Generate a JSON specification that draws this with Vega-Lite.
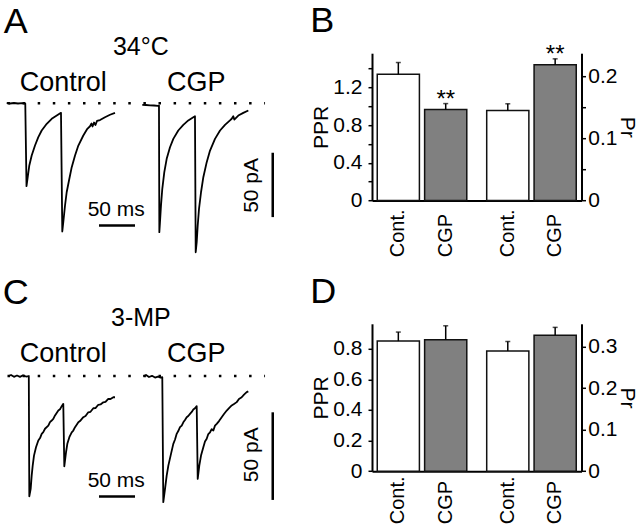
{
 "$schema": "https://vega.github.io/schema/vega-lite/v6.json",
 "padding": {"left": 0, "top": 3.2, "right": 0, "bottom": 0},
 "background": "white",
 "config": {
  "font": "Liberation Sans",
  "view": {"stroke": null},
  "axis": {"grid": false, "domainColor": "black", "tickColor": "black", "labelColor": "black", "titleColor": "black", "titleFontWeight": "normal"},
  "title": {"fontWeight": "normal", "color": "black"},
  "text": {"color": "black"}
 },
 "datasets": {
  "traces": [
   {"p":"A","c":"Ctl","t":9.3,"i":0.31},{"p":"A","c":"Ctl","t":13.9,"i":-0.23},{"p":"A","c":"Ctl","t":19.4,"i":0.16},{"p":"A","c":"Ctl","t":25.0,"i":-0.23},{"p":"A","c":"Ctl","t":30.6,"i":0},{"p":"A","c":"Ctl","t":35.1,"i":-0.23},{"p":"A","c":"Ctl","t":36.8,"i":-64.5},{"p":"A","c":"Ctl","t":38.5,"i":-57.5},{"p":"A","c":"Ctl","t":40.7,"i":-48.4},{"p":"A","c":"Ctl","t":44.0,"i":-40.6},{"p":"A","c":"Ctl","t":48.6,"i":-32.9},{"p":"A","c":"Ctl","t":53.2,"i":-26.4},{"p":"A","c":"Ctl","t":57.9,"i":-21.2},{"p":"A","c":"Ctl","t":64.9,"i":-16.0},{"p":"A","c":"Ctl","t":71.8,"i":-12.1},{"p":"A","c":"Ctl","t":78.8,"i":-9.6},{"p":"A","c":"Ctl","t":84.7,"i":-7.5},{"p":"A","c":"Ctl","t":86.5,"i":-99.7},{"p":"A","c":"Ctl","t":87.9,"i":-92.5},{"p":"A","c":"Ctl","t":90.3,"i":-79.5},{"p":"A","c":"Ctl","t":92.6,"i":-69.2},{"p":"A","c":"Ctl","t":96.3,"i":-58.7},{"p":"A","c":"Ctl","t":99.6,"i":-49.7},{"p":"A","c":"Ctl","t":104.2,"i":-40.6},{"p":"A","c":"Ctl","t":108.8,"i":-32.9},{"p":"A","c":"Ctl","t":115.7,"i":-25.1},{"p":"A","c":"Ctl","t":121.3,"i":-19.9},{"p":"A","c":"Ctl","t":125.0,"i":-17.9},{"p":"A","c":"Ctl","t":127.1,"i":-15.8},{"p":"A","c":"Ctl","t":128.5,"i":-18.1},{"p":"A","c":"Ctl","t":130.6,"i":-15.0},{"p":"A","c":"Ctl","t":132.6,"i":-16.9},{"p":"A","c":"Ctl","t":134.7,"i":-13.8},{"p":"A","c":"Ctl","t":138.9,"i":-13.1},{"p":"A","c":"Ctl","t":145.8,"i":-10.9},{"p":"A","c":"Ctl","t":152.8,"i":-9.0},{"p":"A","c":"Ctl","t":159.7,"i":-7.5},
   {"p":"A","c":"CGP","t":197.6,"i":-1.24},{"p":"A","c":"CGP","t":202.8,"i":-1.40},{"p":"A","c":"CGP","t":208.3,"i":-1.63},{"p":"A","c":"CGP","t":213.9,"i":-1.79},{"p":"A","c":"CGP","t":219.4,"i":-2.02},{"p":"A","c":"CGP","t":220.8,"i":-1.79},{"p":"A","c":"CGP","t":221.3,"i":-100.2},{"p":"A","c":"CGP","t":222.2,"i":-92.5},{"p":"A","c":"CGP","t":223.6,"i":-79.5},{"p":"A","c":"CGP","t":225.4,"i":-66.5},{"p":"A","c":"CGP","t":228.2,"i":-53.6},{"p":"A","c":"CGP","t":231.5,"i":-43.2},{"p":"A","c":"CGP","t":236.1,"i":-34.2},{"p":"A","c":"CGP","t":240.7,"i":-27.7},{"p":"A","c":"CGP","t":247.6,"i":-21.2},{"p":"A","c":"CGP","t":254.6,"i":-16.8},{"p":"A","c":"CGP","t":261.5,"i":-13.4},{"p":"A","c":"CGP","t":268.5,"i":-10.9},{"p":"A","c":"CGP","t":270.8,"i":-10.1},{"p":"A","c":"CGP","t":271.8,"i":-115.8},{"p":"A","c":"CGP","t":273.2,"i":-108.0},{"p":"A","c":"CGP","t":274.6,"i":-95.0},{"p":"A","c":"CGP","t":276.4,"i":-82.1},{"p":"A","c":"CGP","t":279.2,"i":-69.2},{"p":"A","c":"CGP","t":282.4,"i":-57.5},{"p":"A","c":"CGP","t":287.1,"i":-45.8},{"p":"A","c":"CGP","t":291.7,"i":-36.8},{"p":"A","c":"CGP","t":298.6,"i":-27.7},{"p":"A","c":"CGP","t":305.6,"i":-21.2},{"p":"A","c":"CGP","t":312.5,"i":-16.8},{"p":"A","c":"CGP","t":319.4,"i":-13.4},{"p":"A","c":"CGP","t":321.8,"i":-12.1},{"p":"A","c":"CGP","t":324.0,"i":-10.1},{"p":"A","c":"CGP","t":325.4,"i":-12.7},{"p":"A","c":"CGP","t":331.0,"i":-9.6},{"p":"A","c":"CGP","t":337.9,"i":-7.5},{"p":"A","c":"CGP","t":344.9,"i":-5.7},
   {"p":"C","c":"Ctl","t":11.5,"i":-0.11},{"p":"C","c":"Ctl","t":15.3,"i":0.57},{"p":"C","c":"Ctl","t":19.4,"i":-0.46},{"p":"C","c":"Ctl","t":23.6,"i":0.29},{"p":"C","c":"Ctl","t":27.8,"i":-0.46},{"p":"C","c":"Ctl","t":31.9,"i":0.40},{"p":"C","c":"Ctl","t":36.1,"i":-0.29},{"p":"C","c":"Ctl","t":40.0,"i":0},{"p":"C","c":"Ctl","t":40.7,"i":-68.6},{"p":"C","c":"Ctl","t":42.6,"i":-64.4},{"p":"C","c":"Ctl","t":44.0,"i":-56.8},{"p":"C","c":"Ctl","t":45.4,"i":-51.1},{"p":"C","c":"Ctl","t":47.2,"i":-45.4},{"p":"C","c":"Ctl","t":50.0,"i":-40.6},{"p":"C","c":"Ctl","t":53.2,"i":-36.8},{"p":"C","c":"Ctl","t":55.6,"i":-35.4},{"p":"C","c":"Ctl","t":57.9,"i":-33.0},{"p":"C","c":"Ctl","t":60.1,"i":-32.0},{"p":"C","c":"Ctl","t":62.5,"i":-30.1},{"p":"C","c":"Ctl","t":67.1,"i":-28.3},{"p":"C","c":"Ctl","t":69.4,"i":-26.3},{"p":"C","c":"Ctl","t":71.8,"i":-25.4},{"p":"C","c":"Ctl","t":74.0,"i":-24.5},{"p":"C","c":"Ctl","t":76.4,"i":-22.5},{"p":"C","c":"Ctl","t":81.0,"i":-19.7},{"p":"C","c":"Ctl","t":83.3,"i":-19.0},{"p":"C","c":"Ctl","t":85.7,"i":-17.2},{"p":"C","c":"Ctl","t":87.9,"i":-15.9},{"p":"C","c":"Ctl","t":89.3,"i":-51.5},{"p":"C","c":"Ctl","t":91.7,"i":-43.5},{"p":"C","c":"Ctl","t":93.5,"i":-38.7},{"p":"C","c":"Ctl","t":96.3,"i":-34.9},{"p":"C","c":"Ctl","t":99.6,"i":-32.1},{"p":"C","c":"Ctl","t":101.8,"i":-31.1},{"p":"C","c":"Ctl","t":104.2,"i":-29.2},{"p":"C","c":"Ctl","t":108.8,"i":-26.4},{"p":"C","c":"Ctl","t":111.1,"i":-25.7},{"p":"C","c":"Ctl","t":115.7,"i":-23.5},{"p":"C","c":"Ctl","t":118.8,"i":-22.8},{"p":"C","c":"Ctl","t":122.6,"i":-20.7},{"p":"C","c":"Ctl","t":125.7,"i":-20.4},{"p":"C","c":"Ctl","t":129.6,"i":-18.4},{"p":"C","c":"Ctl","t":132.6,"i":-18.3},{"p":"C","c":"Ctl","t":136.5,"i":-16.4},{"p":"C","c":"Ctl","t":139.6,"i":-16.2},{"p":"C","c":"Ctl","t":143.5,"i":-15.0},{"p":"C","c":"Ctl","t":146.5,"i":-14.8},{"p":"C","c":"Ctl","t":150.4,"i":-13.0},{"p":"C","c":"Ctl","t":153.5,"i":-13.1},{"p":"C","c":"Ctl","t":157.4,"i":-12.1},{"p":"C","c":"Ctl","t":159.7,"i":-12.1},
   {"p":"C","c":"CGP","t":199.0,"i":-0.11},{"p":"C","c":"CGP","t":202.8,"i":0.57},{"p":"C","c":"CGP","t":206.9,"i":-0.57},{"p":"C","c":"CGP","t":211.1,"i":0.11},{"p":"C","c":"CGP","t":215.3,"i":-0.86},{"p":"C","c":"CGP","t":219.4,"i":-0.29},{"p":"C","c":"CGP","t":222.9,"i":-0.97},{"p":"C","c":"CGP","t":225.4,"i":-0.68},{"p":"C","c":"CGP","t":226.8,"i":-72.0},{"p":"C","c":"CGP","t":229.2,"i":-64.4},{"p":"C","c":"CGP","t":231.5,"i":-56.8},{"p":"C","c":"CGP","t":233.8,"i":-51.1},{"p":"C","c":"CGP","t":237.5,"i":-44.4},{"p":"C","c":"CGP","t":240.7,"i":-38.7},{"p":"C","c":"CGP","t":243.1,"i":-36.2},{"p":"C","c":"CGP","t":245.4,"i":-33.0},{"p":"C","c":"CGP","t":247.6,"i":-31.4},{"p":"C","c":"CGP","t":250.0,"i":-29.2},{"p":"C","c":"CGP","t":252.4,"i":-28.3},{"p":"C","c":"CGP","t":254.6,"i":-26.4},{"p":"C","c":"CGP","t":256.9,"i":-25.1},{"p":"C","c":"CGP","t":259.3,"i":-23.5},{"p":"C","c":"CGP","t":261.5,"i":-22.8},{"p":"C","c":"CGP","t":263.9,"i":-21.6},{"p":"C","c":"CGP","t":266.3,"i":-20.5},{"p":"C","c":"CGP","t":268.5,"i":-19.1},{"p":"C","c":"CGP","t":270.8,"i":-18.4},{"p":"C","c":"CGP","t":273.2,"i":-17.2},{"p":"C","c":"CGP","t":274.6,"i":-58.7},{"p":"C","c":"CGP","t":276.8,"i":-51.1},{"p":"C","c":"CGP","t":279.2,"i":-45.4},{"p":"C","c":"CGP","t":282.4,"i":-40.6},{"p":"C","c":"CGP","t":284.7,"i":-37.4},{"p":"C","c":"CGP","t":287.1,"i":-35.8},{"p":"C","c":"CGP","t":289.3,"i":-33.1},{"p":"C","c":"CGP","t":291.7,"i":-32.1},{"p":"C","c":"CGP","t":294.0,"i":-30.3},{"p":"C","c":"CGP","t":296.3,"i":-31.1},{"p":"C","c":"CGP","t":298.6,"i":-28.3},{"p":"C","c":"CGP","t":301.0,"i":-27.3},{"p":"C","c":"CGP","t":304.2,"i":-25.7},{"p":"C","c":"CGP","t":307.9,"i":-23.5},{"p":"C","c":"CGP","t":311.1,"i":-21.7},{"p":"C","c":"CGP","t":314.9,"i":-19.7},{"p":"C","c":"CGP","t":318.1,"i":-18.3},{"p":"C","c":"CGP","t":321.8,"i":-16.8},{"p":"C","c":"CGP","t":325.0,"i":-16.0},{"p":"C","c":"CGP","t":328.8,"i":-14.9},{"p":"C","c":"CGP","t":331.9,"i":-13.1},{"p":"C","c":"CGP","t":335.7,"i":-12.1},{"p":"C","c":"CGP","t":338.9,"i":-10.6},{"p":"C","c":"CGP","t":342.6,"i":-9.2},{"p":"C","c":"CGP","t":344.9,"i":-8.8}
  ],
  "notes": [
   {"p":"A","k":"L","s":"A","t":21.9,"i":54.2},
   {"p":"A","k":"H","s":"34°C","t":195.6,"i":37.5},
   {"p":"A","k":"C","s":"Control","t":87.9,"i":9.3},
   {"p":"A","k":"C","s":"CGP","t":272.5,"i":9.3},
   {"p":"A","k":"M","s":"50 ms","t":161.4,"i":-87.3},
   {"p":"A","k":"P","s":"50 pA","t":358.8,"i":-63.9},
   {"p":"C","k":"L","s":"C","t":21.9,"i":41.2},
   {"p":"C","k":"H","s":"3-MP","t":195.6,"i":28.5},
   {"p":"C","k":"C","s":"Control","t":87.9,"i":7.9},
   {"p":"C","k":"C","s":"CGP","t":272.5,"i":7.9},
   {"p":"C","k":"M","s":"50 ms","t":161.4,"i":-63.1},
   {"p":"C","k":"P","s":"50 pA","t":358.8,"i":-44.9}
  ],
  "rules": [
   {"p":"A","k":"dots","t1":10.4,"t2":368.1,"i1":0,"i2":0},
   {"p":"A","k":"bar","t1":137.5,"t2":187.5,"i1":-95.0,"i2":-95.0},
   {"p":"A","k":"bar","t1":378.8,"t2":378.8,"i1":-38.5,"i2":-88.5},
   {"p":"C","k":"dots","t1":10.4,"t2":368.1,"i1":0,"i2":0},
   {"p":"C","k":"bar","t1":137.5,"t2":187.5,"i1":-68.8,"i2":-68.8},
   {"p":"C","k":"bar","t1":378.8,"t2":378.8,"i1":-20.7,"i2":-70.7}
  ],
  "bars": [
   {"p":"B","m":"PPR","c":"Cont.","v":1.34,"hi":1.465,"s":""},
   {"p":"B","m":"PPR","c":"CGP","v":0.965,"hi":1.029,"s":"**"},
   {"p":"B","m":"Pr","c":"Cont.","v":0.145,"hi":0.156,"s":""},
   {"p":"B","m":"Pr","c":"CGP","v":0.219,"hi":0.2285,"s":"**"},
   {"p":"D","m":"PPR","c":"Cont.","v":0.85,"hi":0.909,"s":""},
   {"p":"D","m":"PPR","c":"CGP","v":0.859,"hi":0.95,"s":""},
   {"p":"D","m":"Pr","c":"Cont.","v":0.289,"hi":0.312,"s":""},
   {"p":"D","m":"Pr","c":"CGP","v":0.327,"hi":0.346,"s":""}
  ]
 },
 "bounds": "flush",
 "spacing": 270.6,
 "vconcat": [
  {
   "bounds": "flush",
   "spacing": 72,
   "hconcat": [
    {
     "width": 300, "height": 147.3,
     "layer": [
      {"data": {"name": "traces"}, "transform": [{"filter": "datum.p=='A'"}],
       "mark": {"type": "line", "color": "black", "strokeWidth": 1.8, "strokeJoin": "round", "clip": false},
       "encoding": {
        "x": {"field": "t", "type": "quantitative", "scale": {"domain": [0, 416.67], "nice": false, "zero": false}, "axis": null},
        "y": {"field": "i", "type": "quantitative", "scale": {"domain": [-75.6, 38.85], "nice": false, "zero": false}, "axis": null},
        "detail": {"field": "c"}}},
      {"data": {"name": "rules"}, "transform": [{"filter": "datum.p=='A' && datum.k=='dots'"}],
       "mark": {"type": "rule", "color": "black", "strokeWidth": 2.5, "strokeDash": [2.5, 12.6]},
       "encoding": {
        "x": {"field": "t1", "type": "quantitative", "scale": {"domain": [0, 416.67], "nice": false, "zero": false}, "axis": null},
        "x2": {"field": "t2"},
        "y": {"field": "i1", "type": "quantitative", "scale": {"domain": [-75.6, 38.85], "nice": false, "zero": false}, "axis": null},
        "y2": {"field": "i2"}}},
      {"data": {"name": "rules"}, "transform": [{"filter": "datum.p=='A' && datum.k=='bar'"}],
       "mark": {"type": "rule", "color": "black", "strokeWidth": 2.5},
       "encoding": {
        "x": {"field": "t1", "type": "quantitative", "scale": {"domain": [0, 416.67], "nice": false, "zero": false}, "axis": null},
        "x2": {"field": "t2"},
        "y": {"field": "i1", "type": "quantitative", "scale": {"domain": [-75.6, 38.85], "nice": false, "zero": false}, "axis": null},
        "y2": {"field": "i2"}}},
      {"data": {"name": "notes"}, "transform": [{"filter": "datum.p=='A' && datum.k=='L'"}],
       "mark": {"type": "text", "fontSize": 36, "align": "center", "baseline": "alphabetic"},
       "encoding": {
        "x": {"field": "t", "type": "quantitative", "scale": {"domain": [0, 416.67], "nice": false, "zero": false}, "axis": null},
        "y": {"field": "i", "type": "quantitative", "scale": {"domain": [-75.6, 38.85], "nice": false, "zero": false}, "axis": null},
        "text": {"field": "s"}}},
      {"data": {"name": "notes"}, "transform": [{"filter": "datum.p=='A' && datum.k=='H'"}],
       "mark": {"type": "text", "fontSize": 25, "align": "center", "baseline": "alphabetic"},
       "encoding": {
        "x": {"field": "t", "type": "quantitative", "scale": {"domain": [0, 416.67], "nice": false, "zero": false}, "axis": null},
        "y": {"field": "i", "type": "quantitative", "scale": {"domain": [-75.6, 38.85], "nice": false, "zero": false}, "axis": null},
        "text": {"field": "s"}}},
      {"data": {"name": "notes"}, "transform": [{"filter": "datum.p=='A' && datum.k=='C'"}],
       "mark": {"type": "text", "fontSize": 27, "align": "center", "baseline": "alphabetic"},
       "encoding": {
        "x": {"field": "t", "type": "quantitative", "scale": {"domain": [0, 416.67], "nice": false, "zero": false}, "axis": null},
        "y": {"field": "i", "type": "quantitative", "scale": {"domain": [-75.6, 38.85], "nice": false, "zero": false}, "axis": null},
        "text": {"field": "s"}}},
      {"data": {"name": "notes"}, "transform": [{"filter": "datum.p=='A' && datum.k=='M'"}],
       "mark": {"type": "text", "fontSize": 21, "align": "center", "baseline": "alphabetic"},
       "encoding": {
        "x": {"field": "t", "type": "quantitative", "scale": {"domain": [0, 416.67], "nice": false, "zero": false}, "axis": null},
        "y": {"field": "i", "type": "quantitative", "scale": {"domain": [-75.6, 38.85], "nice": false, "zero": false}, "axis": null},
        "text": {"field": "s"}}},
      {"data": {"name": "notes"}, "transform": [{"filter": "datum.p=='A' && datum.k=='P'"}],
       "mark": {"type": "text", "fontSize": 21, "align": "center", "baseline": "alphabetic", "angle": 270},
       "encoding": {
        "x": {"field": "t", "type": "quantitative", "scale": {"domain": [0, 416.67], "nice": false, "zero": false}, "axis": null},
        "y": {"field": "i", "type": "quantitative", "scale": {"domain": [-75.6, 38.85], "nice": false, "zero": false}, "axis": null},
        "text": {"field": "s"}}}
     ]
    },
    {
     "width": 209.5, "height": 147.3,
     "data": {"name": "bars"},
     "transform": [{"filter": "datum.p=='B'"}],
     "title": {"text": "B", "anchor": "start", "frame": "bounds", "fontSize": 36, "fontWeight": "normal", "baseline": "alphabetic", "offset": -25.6, "color": "black"},
     "encoding": {
      "x": {"field": "m", "type": "nominal", "scale": {"domain": ["PPR", "Pr"], "paddingInner": 0.182, "paddingOuter": 0.048}, "axis": {"labels": false, "ticks": false, "title": null, "domainColor": "black", "domainWidth": 2}},
      "xOffset": {"field": "c", "type": "nominal", "scale": {"domain": ["Cont.", "CGP"], "paddingInner": 0.11, "paddingOuter": 0}}
     },
     "layer": [
      {"transform": [{"filter": "datum.m=='PPR'"}],
       "mark": {"type": "bar", "stroke": "#111", "strokeWidth": 1.5},
       "encoding": {
        "y": {"field": "v", "type": "quantitative", "scale": {"domain": [0, 1.564], "nice": false},
              "axis": {"orient": "left", "title": "PPR", "values": [0, 0.2, 0.4, 0.6, 0.8, 1, 1.2, 1.4], "labelExpr": "round(datum.value*10)%4==0 ? format(datum.value,'.1~f') : ''", "domainWidth": 2, "tickWidth": 1.5, "tickSize": 4, "labelFontSize": 21, "labelPadding": 6, "titleFontSize": 21, "titlePadding": 1.5}},
        "fill": {"field": "c", "type": "nominal", "scale": {"domain": ["Cont.", "CGP"], "range": ["white", "#808080"]}, "legend": null}}},
      {"transform": [{"filter": "datum.m=='Pr'"}],
       "mark": {"type": "bar", "stroke": "#111", "strokeWidth": 1.5},
       "encoding": {
        "y": {"field": "v", "type": "quantitative", "scale": {"domain": [0, 0.2376], "nice": false},
              "axis": {"orient": "right", "title": "Pr", "values": [0, 0.05, 0.1, 0.15, 0.2], "labelExpr": "round(datum.value*100)%10==0 ? format(datum.value,'.1~f') : ''", "domainWidth": 2, "tickWidth": 1.5, "tickSize": 4, "labelFontSize": 21, "labelPadding": 2.3, "titleFontSize": 21, "titlePadding": 0}},
        "fill": {"field": "c", "type": "nominal", "scale": {"domain": ["Cont.", "CGP"], "range": ["white", "#808080"]}, "legend": null}}},
      {"transform": [{"filter": "datum.m=='PPR'"}],
       "mark": {"type": "rule", "color": "black", "strokeWidth": 1.5},
       "encoding": {"y": {"field": "v", "type": "quantitative", "scale": {"domain": [0, 1.564], "nice": false}, "axis": null}, "y2": {"field": "hi"}}},
      {"transform": [{"filter": "datum.m=='Pr'"}],
       "mark": {"type": "rule", "color": "black", "strokeWidth": 1.5},
       "encoding": {"y": {"field": "v", "type": "quantitative", "scale": {"domain": [0, 0.2376], "nice": false}, "axis": null}, "y2": {"field": "hi"}}},
      {"transform": [{"filter": "datum.m=='PPR'"}],
       "mark": {"type": "tick", "color": "black", "thickness": 1.5, "size": 5, "orient": "horizontal"},
       "encoding": {"y": {"field": "hi", "type": "quantitative", "scale": {"domain": [0, 1.564], "nice": false}, "axis": null}}},
      {"transform": [{"filter": "datum.m=='Pr'"}],
       "mark": {"type": "tick", "color": "black", "thickness": 1.5, "size": 5, "orient": "horizontal"},
       "encoding": {"y": {"field": "hi", "type": "quantitative", "scale": {"domain": [0, 0.2376], "nice": false}, "axis": null}}},
      {"transform": [{"filter": "datum.m=='PPR' && datum.s!=''"}],
       "mark": {"type": "text", "fontSize": 24, "baseline": "alphabetic", "dy": 3},
       "encoding": {"y": {"field": "hi", "type": "quantitative", "scale": {"domain": [0, 1.564], "nice": false}, "axis": null}, "text": {"field": "s"}}},
      {"transform": [{"filter": "datum.m=='Pr' && datum.s!=''"}],
       "mark": {"type": "text", "fontSize": 24, "baseline": "alphabetic", "dy": 3},
       "encoding": {"y": {"field": "hi", "type": "quantitative", "scale": {"domain": [0, 0.2376], "nice": false}, "axis": null}, "text": {"field": "s"}}},
      {"mark": {"type": "text", "fontSize": 20, "angle": 270, "align": "left", "baseline": "middle", "dx": -56.7},
       "encoding": {"y": {"datum": 0, "type": "quantitative", "scale": {"domain": [0, 1]}, "axis": null}, "text": {"field": "c"}}}
     ],
     "resolve": {"scale": {"y": "independent"}}
    }
   ]
  },
  {
   "bounds": "flush",
   "spacing": 72,
   "hconcat": [
    {
     "width": 300, "height": 147.4,
     "layer": [
      {"data": {"name": "traces"}, "transform": [{"filter": "datum.p=='C'"}],
       "mark": {"type": "line", "color": "black", "strokeWidth": 1.8, "strokeJoin": "round", "clip": false},
       "encoding": {
        "x": {"field": "t", "type": "quantitative", "scale": {"domain": [0, 416.67], "nice": false, "zero": false}, "axis": null},
        "y": {"field": "i", "type": "quantitative", "scale": {"domain": [-54.3, 29.8], "nice": false, "zero": false}, "axis": null},
        "detail": {"field": "c"}}},
      {"data": {"name": "rules"}, "transform": [{"filter": "datum.p=='C' && datum.k=='dots'"}],
       "mark": {"type": "rule", "color": "black", "strokeWidth": 2.5, "strokeDash": [2.5, 12.6]},
       "encoding": {
        "x": {"field": "t1", "type": "quantitative", "scale": {"domain": [0, 416.67], "nice": false, "zero": false}, "axis": null},
        "x2": {"field": "t2"},
        "y": {"field": "i1", "type": "quantitative", "scale": {"domain": [-54.3, 29.8], "nice": false, "zero": false}, "axis": null},
        "y2": {"field": "i2"}}},
      {"data": {"name": "rules"}, "transform": [{"filter": "datum.p=='C' && datum.k=='bar'"}],
       "mark": {"type": "rule", "color": "black", "strokeWidth": 2.5},
       "encoding": {
        "x": {"field": "t1", "type": "quantitative", "scale": {"domain": [0, 416.67], "nice": false, "zero": false}, "axis": null},
        "x2": {"field": "t2"},
        "y": {"field": "i1", "type": "quantitative", "scale": {"domain": [-54.3, 29.8], "nice": false, "zero": false}, "axis": null},
        "y2": {"field": "i2"}}},
      {"data": {"name": "notes"}, "transform": [{"filter": "datum.p=='C' && datum.k=='L'"}],
       "mark": {"type": "text", "fontSize": 36, "align": "center", "baseline": "alphabetic"},
       "encoding": {
        "x": {"field": "t", "type": "quantitative", "scale": {"domain": [0, 416.67], "nice": false, "zero": false}, "axis": null},
        "y": {"field": "i", "type": "quantitative", "scale": {"domain": [-54.3, 29.8], "nice": false, "zero": false}, "axis": null},
        "text": {"field": "s"}}},
      {"data": {"name": "notes"}, "transform": [{"filter": "datum.p=='C' && datum.k=='H'"}],
       "mark": {"type": "text", "fontSize": 25, "align": "center", "baseline": "alphabetic"},
       "encoding": {
        "x": {"field": "t", "type": "quantitative", "scale": {"domain": [0, 416.67], "nice": false, "zero": false}, "axis": null},
        "y": {"field": "i", "type": "quantitative", "scale": {"domain": [-54.3, 29.8], "nice": false, "zero": false}, "axis": null},
        "text": {"field": "s"}}},
      {"data": {"name": "notes"}, "transform": [{"filter": "datum.p=='C' && datum.k=='C'"}],
       "mark": {"type": "text", "fontSize": 27, "align": "center", "baseline": "alphabetic"},
       "encoding": {
        "x": {"field": "t", "type": "quantitative", "scale": {"domain": [0, 416.67], "nice": false, "zero": false}, "axis": null},
        "y": {"field": "i", "type": "quantitative", "scale": {"domain": [-54.3, 29.8], "nice": false, "zero": false}, "axis": null},
        "text": {"field": "s"}}},
      {"data": {"name": "notes"}, "transform": [{"filter": "datum.p=='C' && datum.k=='M'"}],
       "mark": {"type": "text", "fontSize": 21, "align": "center", "baseline": "alphabetic"},
       "encoding": {
        "x": {"field": "t", "type": "quantitative", "scale": {"domain": [0, 416.67], "nice": false, "zero": false}, "axis": null},
        "y": {"field": "i", "type": "quantitative", "scale": {"domain": [-54.3, 29.8], "nice": false, "zero": false}, "axis": null},
        "text": {"field": "s"}}},
      {"data": {"name": "notes"}, "transform": [{"filter": "datum.p=='C' && datum.k=='P'"}],
       "mark": {"type": "text", "fontSize": 21, "align": "center", "baseline": "alphabetic", "angle": 270},
       "encoding": {
        "x": {"field": "t", "type": "quantitative", "scale": {"domain": [0, 416.67], "nice": false, "zero": false}, "axis": null},
        "y": {"field": "i", "type": "quantitative", "scale": {"domain": [-54.3, 29.8], "nice": false, "zero": false}, "axis": null},
        "text": {"field": "s"}}}
     ]
    },
    {
     "width": 209.5, "height": 147.4,
     "data": {"name": "bars"},
     "transform": [{"filter": "datum.p=='D'"}],
     "title": {"text": "D", "anchor": "start", "frame": "bounds", "fontSize": 36, "fontWeight": "normal", "baseline": "alphabetic", "offset": -15.6, "color": "black"},
     "encoding": {
      "x": {"field": "m", "type": "nominal", "scale": {"domain": ["PPR", "Pr"], "paddingInner": 0.182, "paddingOuter": 0.048}, "axis": {"labels": false, "ticks": false, "title": null, "domainColor": "black", "domainWidth": 2}},
      "xOffset": {"field": "c", "type": "nominal", "scale": {"domain": ["Cont.", "CGP"], "paddingInner": 0.11, "paddingOuter": 0}}
     },
     "layer": [
      {"transform": [{"filter": "datum.m=='PPR'"}],
       "mark": {"type": "bar", "stroke": "#111", "strokeWidth": 1.5},
       "encoding": {
        "y": {"field": "v", "type": "quantitative", "scale": {"domain": [0, 0.963], "nice": false},
              "axis": {"orient": "left", "title": "PPR", "values": [0, 0.2, 0.4, 0.6, 0.8], "format": ".1~f", "domainWidth": 2, "tickWidth": 1.5, "tickSize": 4, "labelFontSize": 21, "labelPadding": 6, "titleFontSize": 21, "titlePadding": 1.5}},
        "fill": {"field": "c", "type": "nominal", "scale": {"domain": ["Cont.", "CGP"], "range": ["white", "#808080"]}, "legend": null}}},
      {"transform": [{"filter": "datum.m=='Pr'"}],
       "mark": {"type": "bar", "stroke": "#111", "strokeWidth": 1.5},
       "encoding": {
        "y": {"field": "v", "type": "quantitative", "scale": {"domain": [0, 0.3546], "nice": false},
              "axis": {"orient": "right", "title": "Pr", "values": [0, 0.1, 0.2, 0.3], "format": ".1~f", "domainWidth": 2, "tickWidth": 1.5, "tickSize": 4, "labelFontSize": 21, "labelPadding": 2.3, "titleFontSize": 21, "titlePadding": 0}},
        "fill": {"field": "c", "type": "nominal", "scale": {"domain": ["Cont.", "CGP"], "range": ["white", "#808080"]}, "legend": null}}},
      {"transform": [{"filter": "datum.m=='PPR'"}],
       "mark": {"type": "rule", "color": "black", "strokeWidth": 1.5},
       "encoding": {"y": {"field": "v", "type": "quantitative", "scale": {"domain": [0, 0.963], "nice": false}, "axis": null}, "y2": {"field": "hi"}}},
      {"transform": [{"filter": "datum.m=='Pr'"}],
       "mark": {"type": "rule", "color": "black", "strokeWidth": 1.5},
       "encoding": {"y": {"field": "v", "type": "quantitative", "scale": {"domain": [0, 0.3546], "nice": false}, "axis": null}, "y2": {"field": "hi"}}},
      {"transform": [{"filter": "datum.m=='PPR'"}],
       "mark": {"type": "tick", "color": "black", "thickness": 1.5, "size": 5, "orient": "horizontal"},
       "encoding": {"y": {"field": "hi", "type": "quantitative", "scale": {"domain": [0, 0.963], "nice": false}, "axis": null}}},
      {"transform": [{"filter": "datum.m=='Pr'"}],
       "mark": {"type": "tick", "color": "black", "thickness": 1.5, "size": 5, "orient": "horizontal"},
       "encoding": {"y": {"field": "hi", "type": "quantitative", "scale": {"domain": [0, 0.3546], "nice": false}, "axis": null}}},
      {"mark": {"type": "text", "fontSize": 20, "angle": 270, "align": "left", "baseline": "middle", "dx": -53},
       "encoding": {"y": {"datum": 0, "type": "quantitative", "scale": {"domain": [0, 1]}, "axis": null}, "text": {"field": "c"}}}
     ],
     "resolve": {"scale": {"y": "independent"}}
    }
   ]
  }
 ]
}
